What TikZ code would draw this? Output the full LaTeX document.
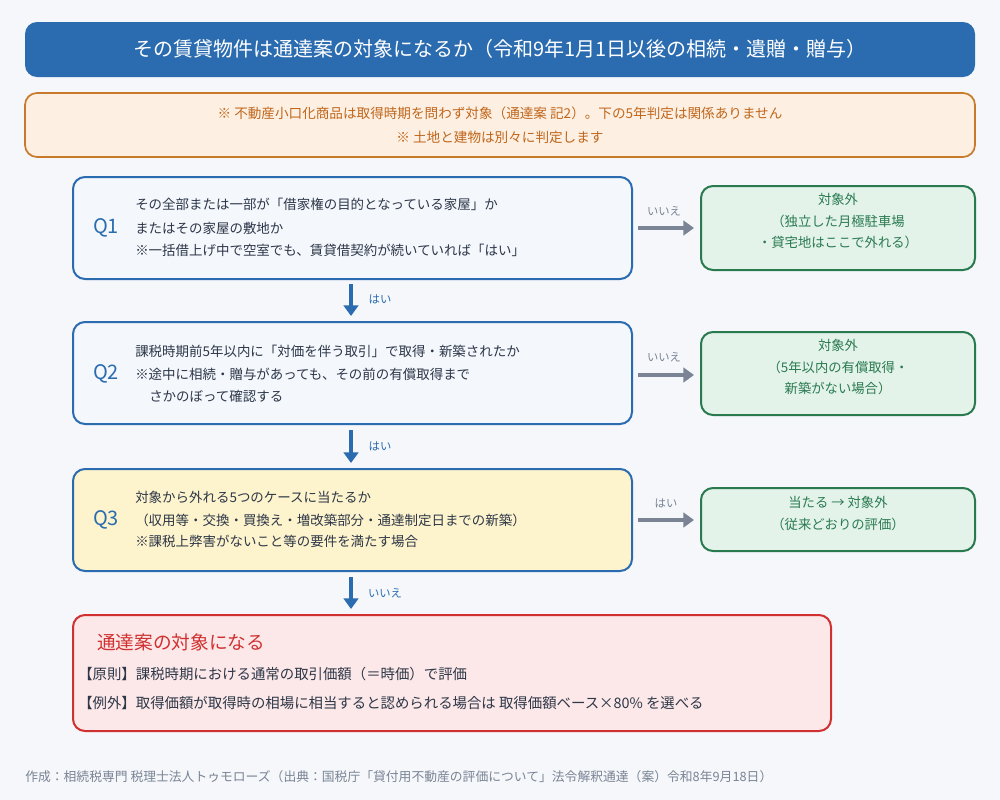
\documentclass[tikz,border=0pt]{standalone}
\usepackage{fontspec}
\setmainfont{Noto Sans CJK JP}
\usetikzlibrary{arrows.meta}
\definecolor{bgcol}{HTML}{F5F7FB}
\definecolor{qblue}{HTML}{2B6CB0}
\definecolor{qfill}{HTML}{F4F7FC}
\definecolor{q3fill}{HTML}{FDF3CC}
\definecolor{ofill}{HTML}{E3F3EA}
\definecolor{oline}{HTML}{2A7A50}
\definecolor{nfill}{HTML}{FDF0E2}
\definecolor{nline}{HTML}{C87A2A}
\definecolor{ntext}{HTML}{C0661C}
\definecolor{rfill}{HTML}{FCE8E8}
\definecolor{rline}{HTML}{D03030}
\definecolor{arrgray}{HTML}{7A8494}
\definecolor{txt}{HTML}{2D3748}
\tikzset{
  qbox/.style={draw=qblue, line width=1.5pt, fill=qfill, rounded corners=9pt},
  obox/.style={draw=oline, line width=1.5pt, fill=ofill, rounded corners=9pt},
  body/.style={anchor=west, text=txt, font=\fontsize{10.1}{12}\selectfont, inner sep=0pt},
  otext/.style={text=oline, font=\fontsize{10}{12}\selectfont, inner sep=0pt},
  qlab/.style={text=qblue, font=\fontsize{15}{17}\selectfont, inner sep=0pt},
  ylab/.style={font=\fontsize{8.5}{10}\selectfont, inner sep=0pt},
  side/.style={draw=arrgray, line width=2.4pt, -{Triangle[length=8pt,width=11pt]}},
  down/.style={draw=qblue, line width=2.4pt, -{Triangle[length=8pt,width=11pt]}}
}
\begin{document}
\begin{tikzpicture}[x=0.75pt,y=-0.75pt]
\fill[bgcol] (0,0) rectangle (1000,800);
\useasboundingbox (0,0) rectangle (1000,800);

% title
\fill[qblue, rounded corners=9pt] (25,22) rectangle (975,77);
\node[text=white, font=\fontsize{15}{17}\selectfont] (title) at (500,49) {その賃貸物件は通達案の対象になるか（令和9年1月1日以後の相続・遺贈・贈与）};

% note
\draw[draw=nline, line width=1.3pt, fill=nfill, rounded corners=9pt] (25,93) rectangle (975,157);
\node[text=ntext, font=\fontsize{10.2}{12}\selectfont] (note1) at (500,113) {※ 不動産小口化商品は取得時期を問わず対象（通達案 記2）。下の5年判定は関係ありません};
\node[text=ntext, font=\fontsize{10.2}{12}\selectfont] (note2) at (500,137) {※ 土地と建物は別々に判定します};

% Q1
\draw[qbox] (73,177) rectangle (632,279);
\node[qlab] (q1) at (106,228) {Q1};
\node[body] at (135,204) {その全部または一部が「借家権の目的となっている家屋」か};
\node[body] at (135,228) {またはその家屋の敷地か};
\node[body] at (135,250) {※一括借上げ中で空室でも、賃貸借契約が続いていれば「はい」};
\draw[obox] (701,186) rectangle (975,270);
\node[otext] at (838,199) {対象外};
\node[otext] at (838,221) {（独立した月極駐車場};
\node[otext] at (838,242) {・貸宅地はここで外れる）};
\coordinate (a1s) at (638,228);
\coordinate (a1e) at (694,228);
\draw[side] (a1s) -- (a1e);
\node[ylab, text=arrgray] at (664,211) {いいえ};

\coordinate (d1s) at (351,284);
\coordinate (d1e) at (351,316);
\draw[down] (d1s) -- (d1e);
\node[ylab, text=qblue] at (380,299) {はい};

% Q2
\draw[qbox] (73,322) rectangle (632,424);
\node[qlab] (q2) at (106,374) {Q2};
\node[body] at (135,351) {課税時期前5年以内に「対価を伴う取引」で取得・新築されたか};
\node[body] at (135,374) {※途中に相続・贈与があっても、その前の有償取得まで};
\node[body] at (149,396) {さかのぼって確認する};
\draw[obox] (701,332) rectangle (975,415);
\node[otext] at (838,345) {対象外};
\node[otext] at (838,367) {（5年以内の有償取得・};
\node[otext] at (838,388) {新築がない場合）};
\coordinate (a2s) at (638,375);
\coordinate (a2e) at (694,375);
\draw[side] (a2s) -- (a2e);
\node[ylab, text=arrgray] at (664,357) {いいえ};

\coordinate (d2s) at (351,430);
\coordinate (d2e) at (351,463);
\draw[down] (d2s) -- (d2e);
\node[ylab, text=qblue] at (380,446) {はい};

% Q3
\draw[qbox, fill=q3fill] (73,469) rectangle (632,571);
\node[qlab] (q3) at (106,520) {Q3};
\node[body] at (135,497) {対象から外れる5つのケースに当たるか};
\node[body] at (135,520) {（収用等・交換・買換え・増改築部分・通達制定日までの新築）};
\node[body] at (135,541) {※課税上弊害がないこと等の要件を満たす場合};
\draw[obox] (701,488) rectangle (975,551);
\node[otext] at (838,502) {当たる → 対象外};
\node[otext] at (838,524) {（従来どおりの評価）};
\coordinate (a3s) at (638,520);
\coordinate (a3e) at (694,520);
\draw[side] (a3s) -- (a3e);
\node[ylab, text=arrgray] at (666,503) {はい};

\coordinate (d3s) at (351,577);
\coordinate (d3e) at (351,609);
\draw[down] (d3s) -- (d3e);
\node[ylab, text=qblue] at (385,593) {いいえ};

% result
\draw[draw=rline, line width=1.5pt, fill=rfill, rounded corners=9pt] (73,615) rectangle (831,731);
\node[anchor=west, text=rline, inner sep=0pt, font=\fontsize{14}{16}\selectfont] (res) at (97,642) {通達案の対象になる};
\node[body, font=\fontsize{10.8}{13}\selectfont] at (78,674) {【原則】課税時期における通常の取引価額（＝時価）で評価};
\node[body, font=\fontsize{10.8}{13}\selectfont] at (78,703) {【例外】取得価額が取得時の相場に相当すると認められる場合は 取得価額ベース×80\% を選べる};

% footer
\node[anchor=west, text=arrgray, inner sep=0pt, font=\fontsize{9.6}{11}\selectfont] (foot) at (25,777) {作成：相続税専門 税理士法人トゥモローズ（出典：国税庁「貸付用不動産の評価について」法令解釈通達（案）令和8年9月18日）};
\end{tikzpicture}
\end{document}
